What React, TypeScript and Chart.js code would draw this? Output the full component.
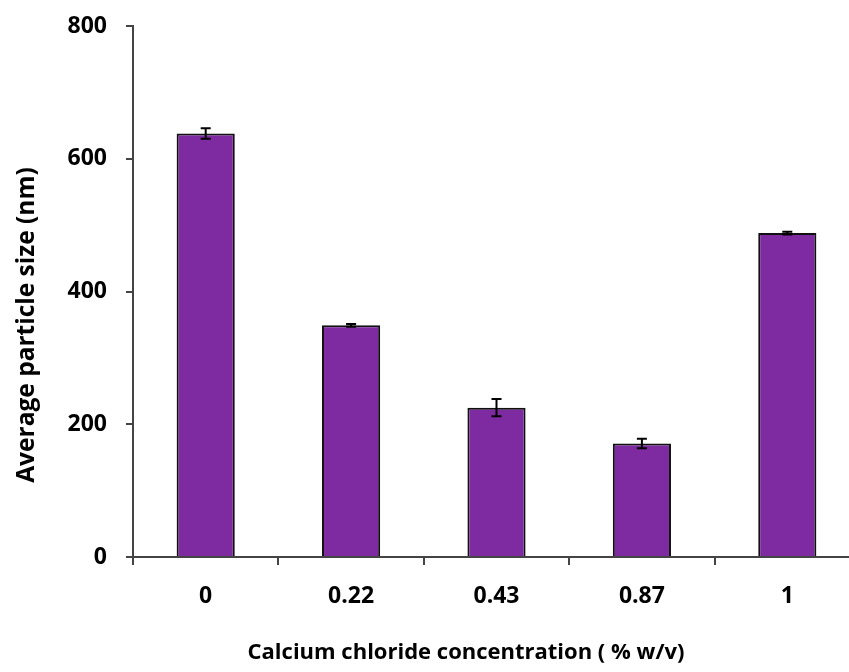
import React, { useEffect, useRef } from "react";
import { Chart, registerables } from "chart.js";

Chart.register(...registerables);

const categories = ["0", "0.22", "0.43", "0.87", "1"];
const sizes = [638, 349, 225, 171, 488];
const sizeErrors = [8, 2, 13, 7, 2];
const yTicks = [0, 200, 400, 600, 800];
const xTitle = "Calcium chloride concentration ( % w/v)";
const yTitle = "Average particle size (nm)";

const FONT = '"Open Sans", "Liberation Sans", sans-serif';

const errorBarPlugin = {
  id: "errorBars",
  afterDatasetsDraw(chart: any) {
    const meta = chart.getDatasetMeta(0);
    const y = chart.scales.y;
    const ctx = chart.ctx;
    ctx.save();
    ctx.strokeStyle = "#000";
    ctx.lineWidth = 2;
    meta.data.forEach((bar: any, i: number) => {
      const v = sizes[i];
      const e = sizeErrors[i];
      const top = y.getPixelForValue(v + e);
      const bot = y.getPixelForValue(v - e);
      const cap = 5;
      ctx.beginPath();
      ctx.moveTo(bar.x, top);
      ctx.lineTo(bar.x, bot);
      ctx.moveTo(bar.x - cap, top);
      ctx.lineTo(bar.x + cap, top);
      ctx.moveTo(bar.x - cap, bot);
      ctx.lineTo(bar.x + cap, bot);
      ctx.stroke();
    });
    ctx.restore();
  },
};

const titlesPlugin = {
  id: "axisTitles",
  afterDraw(chart: any) {
    const ctx = chart.ctx;
    const area = chart.chartArea;
    ctx.save();
    ctx.fillStyle = "#000";
    ctx.textAlign = "center";
    ctx.textBaseline = "middle";
    ctx.font = `bold 22px ${FONT}`;
    ctx.fillText(xTitle, area.left + 333, area.bottom + 96);
    ctx.font = `bold 24.5px ${FONT}`;
    ctx.translate(27, area.top + 299);
    ctx.rotate(-Math.PI / 2);
    ctx.fillText(yTitle, 0, 0);
    ctx.restore();
  },
};

export default function App() {
  const ref = useRef<HTMLCanvasElement | null>(null);

  useEffect(() => {
    if (!ref.current) return;
    const tickFont = { family: FONT, size: 23, weight: "bold" as const };
    const chart = new Chart(ref.current, {
      type: "bar",
      data: {
        labels: categories,
        datasets: [
          {
            data: sizes,
            backgroundColor: "#7E2AA0",
            borderColor: "#111",
            borderWidth: 2,
            barPercentage: 0.4,
            categoryPercentage: 1,
          },
        ],
      },
      options: {
        animation: false,
        responsive: false,
        maintainAspectRatio: false,
        layout: { padding: { top: 26, right: 20, left: 0, bottom: 0 } },
        plugins: {
          legend: { display: false },
          tooltip: { enabled: false },
        },
        scales: {
          x: {
            type: "category",
            offset: true,
            afterFit: (s: any) => {
              s.height = 115;
              s.paddingLeft = 0;
              s.paddingRight = 0;
            },
            grid: {
              offset: true,
              drawOnChartArea: false,
              drawTicks: true,
              tickLength: 8,
              color: "#444",
              lineWidth: 2,
            },
            border: { display: true, color: "#444", width: 2 },
            ticks: { color: "#000", font: tickFont, padding: 18 },
          },
          y: {
            min: 0,
            max: 800,
            afterFit: (s: any) => {
              s.width = 133;
              s.paddingTop = 0;
              s.paddingBottom = 0;
            },
            afterBuildTicks: (s: any) => {
              s.ticks = yTicks.map((v) => ({ value: v }));
            },
            grid: {
              drawOnChartArea: false,
              drawTicks: true,
              tickLength: 7,
              color: "#444",
              lineWidth: 2,
            },
            border: { display: true, color: "#444", width: 2 },
            ticks: { color: "#000", font: tickFont, padding: 19 },
          },
        },
      },
      plugins: [errorBarPlugin, titlesPlugin],
    });
    return () => chart.destroy();
  }, []);

  return (
    <div
      style={{
        position: "fixed",
        left: 0,
        top: 0,
        width: 849,
        height: 672,
        overflow: "hidden",
        background: "#fff",
      }}
    >
      <canvas ref={ref} width={880} height={672} style={{ display: "block" }} />
    </div>
  );
}
